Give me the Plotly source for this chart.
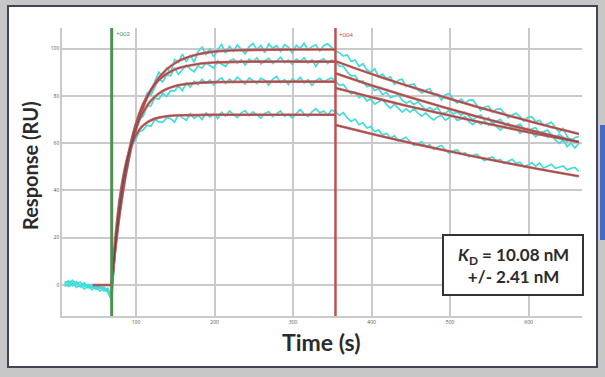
import plotly.graph_objects as go

# ---------------- data ----------------
# sample times (s) of the raw sensorgram traces
base_t = list(range(9, 70, 5))      # baseline, 13 pts
assoc_t = list(range(74, 350, 5))   # association, 56 pts
diss_t = list(range(354, 665, 5))   # dissociation, 63 pts

inject_start = 69
inject_stop = 354

# raw responses (RU), four concentrations
base_1 = [1.5, 0.8, 2.0, 0.5, 1.2, -0.5, 0.3, -1.0, -0.2, -1.5, -0.8, -2.2, -4.0]
base_2 = [0.5, 1.8, -0.3, 1.0, -0.8, 0.6, -1.2, 0.2, -1.8, -0.6, -2.5, -1.4, -5.5]
base_3 = [-0.5, 0.4, 1.2, -1.0, 0.0, -1.6, -0.4, -2.0, -0.9, -2.6, -1.2, -3.0, -6.5]
base_4 = [0.8, -0.6, 0.2, 1.4, -0.2, 0.9, -1.1, -0.3, -1.7, -0.5, -2.0, -2.8, -3.0]

assoc_1 = [16.5, 28.7, 41.9, 49.7, 59.7, 65.1, 69.1, 77.0, 79.5, 80.5,
           86.2, 90.0, 88.0, 92.0, 89.8, 95.3, 94.1, 97.7, 94.4, 97.2,
           94.2, 98.8, 100.6, 97.5, 99.9, 96.5, 99.5, 101.8, 98.1, 101.0,
           98.9, 101.5, 99.6, 97.8, 100.8, 102.1, 99.5, 101.3, 98.3, 101.9,
           100.2, 101.2, 98.8, 101.6, 100.6, 98.2, 101.4, 100.0, 102.2, 99.4,
           100.8, 101.6, 99.0, 101.2, 102.0, 100.4]
assoc_2 = [17.3, 32.7, 42.8, 54.1, 59.5, 67.8, 70.4, 75.9, 81.1, 80.2,
           83.9, 87.3, 85.9, 88.9, 88.5, 91.9, 89.1, 91.2, 93.0, 91.4,
           90.2, 92.7, 91.7, 94.0, 92.8, 91.7, 94.8, 93.4, 92.5, 94.7,
           95.6, 93.8, 95.2, 93.0, 95.5, 94.3, 96.1, 93.5, 94.9, 95.9,
           93.7, 94.7, 96.3, 94.1, 95.1, 93.3, 95.5, 94.5, 96.1, 93.9,
           95.3, 92.5, 94.9, 95.7, 93.7, 95.1]
assoc_3 = [18.5, 32.0, 44.6, 52.1, 60.3, 64.1, 70.3, 71.3, 75.4, 75.8,
           79.1, 78.6, 81.1, 79.7, 82.2, 82.1, 84.3, 82.2, 85.5, 83.7,
           86.2, 84.7, 87.0, 85.3, 86.7, 84.6, 86.4, 87.6, 85.3, 87.1,
           85.7, 87.9, 86.4, 85.0, 87.6, 86.2, 85.2, 87.4, 86.6, 84.6,
           87.0, 88.2, 85.6, 86.8, 84.8, 87.2, 86.0, 87.8, 85.4, 86.8,
           84.4, 86.4, 87.4, 85.8, 86.9, 87.6]
assoc_4 = [20.5, 36.3, 45.6, 52.7, 58.6, 61.3, 64.8, 65.5, 67.6, 67.1,
           70.0, 69.0, 68.8, 70.8, 70.4, 68.9, 72.0, 70.8, 69.7, 72.5,
           70.5, 71.8, 70.0, 72.8, 71.0, 72.4, 70.4, 73.0, 71.4, 73.6,
           72.2, 70.8, 72.8, 73.8, 71.6, 73.2, 72.0, 70.6, 72.6, 73.4,
           71.2, 72.4, 73.6, 71.4, 72.2, 70.6, 72.6, 74.2, 72.4, 71.2,
           73.2, 74.6, 72.8, 73.6, 71.8, 74.0]

diss_1 = [99.0, 98.2, 96.8, 97.4, 94.6, 95.2, 92.4, 93.6, 91.0, 90.1,
          91.4, 88.0, 89.2, 87.3, 88.0, 84.9, 86.6, 87.0, 83.9, 84.7,
          85.0, 82.5, 81.2, 82.4, 83.1, 80.2, 80.7, 78.2, 80.5, 81.0,
          78.5, 77.0, 78.7, 76.9, 78.2, 78.3, 75.8, 73.8, 75.3, 75.6,
          73.1, 74.3, 74.6, 72.4, 70.7, 71.9, 72.6, 71.2, 69.3, 70.9,
          71.2, 69.0, 69.7, 67.5, 68.3, 68.8, 66.6, 64.6, 66.2, 62.8,
          60.9, 62.3, 62.9]
diss_2 = [94.6, 92.6, 92.5, 90.1, 88.4, 88.6, 85.8, 86.3, 83.9, 84.4,
          82.3, 82.9, 80.6, 81.5, 79.2, 80.0, 80.5, 78.2, 76.9, 77.8,
          76.3, 77.6, 75.9, 74.0, 75.1, 73.9, 75.0, 72.5, 72.8, 73.9,
          72.3, 73.2, 71.7, 73.1, 71.4, 69.8, 71.1, 71.9, 69.8, 70.8,
          68.3, 69.3, 70.1, 67.8, 68.4, 66.4, 67.4, 68.1, 66.1, 64.5,
          66.1, 66.5, 64.1, 64.7, 65.5, 63.5, 62.1, 63.7, 62.5, 60.7,
          61.9, 60.5, 60.7]
diss_3 = [86.3, 84.5, 84.8, 82.6, 80.8, 81.6, 79.2, 80.1, 77.9, 78.7,
          76.5, 77.5, 78.5, 76.3, 74.7, 76.5, 74.9, 73.1, 74.5, 73.1,
          74.5, 72.7, 71.4, 72.8, 71.0, 69.8, 71.1, 71.7, 69.7, 70.7,
          71.8, 69.6, 70.2, 71.3, 69.1, 67.8, 69.4, 67.9, 69.3, 67.6,
          69.0, 67.1, 65.5, 67.2, 67.8, 65.9, 66.5, 64.2, 65.3, 66.3,
          64.4, 62.7, 64.3, 64.6, 62.5, 63.6, 61.4, 59.9, 61.4, 58.5,
          60.0, 58.0, 59.9]
diss_4 = [73.3, 71.7, 72.9, 70.7, 69.2, 70.2, 67.8, 68.6, 66.4, 67.0,
          64.8, 65.6, 63.4, 64.2, 62.2, 63.1, 60.9, 61.7, 62.5, 60.6,
          59.0, 60.0, 60.6, 58.5, 59.3, 57.4, 58.4, 59.0, 57.1, 55.7,
          56.8, 57.2, 55.3, 55.9, 54.2, 54.8, 55.3, 53.8, 52.6, 53.7,
          54.2, 52.6, 53.1, 51.4, 52.3, 53.2, 51.5, 51.9, 50.0, 50.7,
          51.8, 50.3, 51.6, 49.5, 50.2, 51.1, 49.4, 49.9, 50.4, 48.7,
          49.4, 49.7, 48.0]

# fitted curves (RU)
fit_assoc_t = [69, 74, 79, 84, 89, 94, 99, 104, 109, 119, 129, 139, 149, 159,
               179, 199, 229, 269, 309, 354]
fit_assoc_1 = [0, 16.0, 29.5, 40.7, 50.2, 58.2, 64.9, 70.5, 75.2, 82.5, 87.6,
               91.2, 93.7, 95.5, 97.6, 98.7, 99.3, 99.5, 99.6, 99.6]
fit_assoc_2 = [0, 17.7, 32.1, 43.8, 53.3, 61.0, 67.3, 72.4, 76.5, 82.6, 86.7,
               89.3, 91.1, 92.2, 93.5, 94.1, 94.4, 94.5, 94.5, 94.5]
fit_assoc_3 = [0, 18.2, 32.5, 43.8, 52.7, 59.8, 65.3, 69.7, 73.1, 78.0, 81.0,
               82.9, 84.1, 84.8, 85.5, 85.8, 85.9, 86.0, 86.0, 86.0]
fit_assoc_4 = [0, 21.0, 35.9, 46.4, 53.9, 59.2, 62.9, 65.6, 67.5, 69.7, 70.8,
               71.4, 71.7, 71.8, 71.9, 72.0, 72.0, 72.0, 72.0, 72.0]

fit_diss_t = [354, 384, 414, 454, 494, 534, 574, 614, 664]
fit_diss_1 = [94.7, 91.1, 87.7, 83.4, 79.3, 75.4, 71.7, 68.1, 63.9]
fit_diss_2 = [89.6, 86.2, 83.0, 78.9, 75.0, 71.3, 67.8, 64.5, 60.5]
fit_diss_3 = [83.3, 80.8, 78.3, 75.1, 72.1, 69.2, 66.4, 63.7, 60.5]
fit_diss_4 = [67.7, 65.2, 62.8, 59.8, 56.9, 54.1, 51.5, 49.0, 46.0]

fit_base_t = [45, 69]
fit_base = [0, 0]

x_ticks = [100, 200, 300, 400, 500, 600]
y_ticks = [0, 20, 40, 60, 80, 100]

# ---------------- figure ----------------
CYAN = "#42dcdc"
RED = "#d3605c"
DARK = "#524650"
GRID = "#cacaca"

fig = go.Figure()

time_all = base_t + assoc_t + diss_t
raw = [base_1 + assoc_1 + diss_1, base_2 + assoc_2 + diss_2,
       base_3 + assoc_3 + diss_3, base_4 + assoc_4 + diss_4]
for r in raw:
    fig.add_trace(go.Scatter(x=time_all, y=r, mode="lines",
                             line=dict(color=CYAN, width=1.7),
                             showlegend=False, hoverinfo="skip"))

fits = [(fit_base_t, fit_base)]
for fa in [fit_assoc_1, fit_assoc_2, fit_assoc_3, fit_assoc_4]:
    fits.append((fit_assoc_t, fa))
for fd in [fit_diss_1, fit_diss_2, fit_diss_3, fit_diss_4]:
    fits.append((fit_diss_t, fd))

for xs, ys in fits:
    fig.add_trace(go.Scatter(x=xs, y=ys, mode="lines",
                             line=dict(color=RED, width=2.6, shape="spline"),
                             showlegend=False, hoverinfo="skip"))
for xs, ys in fits:
    fig.add_trace(go.Scatter(x=xs, y=ys, mode="lines",
                             line=dict(color=DARK, width=0.9, shape="spline"),
                             opacity=0.65, showlegend=False, hoverinfo="skip"))

L, R, T, B = 62, 23, 28, 61
W, H = 605, 377
PW, PH = W - L - R, H - T - B


def px(xp):
    return (xp - L) / PW


def py(yp):
    return (H - B - yp) / PH


shapes = [
    # white panel with dark border
    dict(type="rect", xref="paper", yref="paper", layer="below",
         x0=px(8), x1=px(597), y0=py(367), y1=py(6),
         fillcolor="white", line=dict(color="#3e4657", width=2)),
    # blue sliver at right edge
    dict(type="rect", xref="paper", yref="paper", layer="below",
         x0=px(600), x1=px(606), y0=py(240), y1=py(125),
         fillcolor="#4a68c8", line=dict(width=0)),
    # injection start / stop markers
    dict(type="line", xref="x", yref="paper", x0=inject_start, x1=inject_start,
         y0=0, y1=1, line=dict(color="#4f8f4f", width=3)),
    dict(type="line", xref="x", yref="paper", x0=inject_stop, x1=inject_stop,
         y0=0, y1=1, line=dict(color="#c0504d", width=2.5)),
    # KD box
    dict(type="rect", xref="paper", yref="paper",
         x0=px(443), x1=px(583), y0=py(295), y1=py(235),
         fillcolor="white", line=dict(color="#333333", width=2)),
]

annotations = [
    dict(text="<b>Response (RU)</b>", xref="paper", yref="paper",
         x=px(30), y=py(166), xanchor="center", yanchor="middle",
         showarrow=False, textangle=-90,
         font=dict(family="Lato", size=20, color="#2b2b2b")),
    dict(text="<b>Time (s)</b>", xref="paper", yref="paper",
         x=px(321), y=py(342), xanchor="center", yanchor="middle",
         showarrow=False,
         font=dict(family="Lato", size=23, color="#2b2b2b")),
    dict(text="<b><i>K</i><sub>D</sub> = 10.08 nM<br>+/- 2.41 nM</b>",
         xref="paper", yref="paper", x=px(513), y=py(265),
         xanchor="center", yanchor="middle", showarrow=False,
         align="center",
         font=dict(family="Lato", size=17, color="#2b2b2b")),
    dict(text="+002", xref="paper", yref="paper", x=px(114), y=py(33),
         xanchor="left", yanchor="middle", showarrow=False,
         font=dict(family="Lato", size=6, color="#4f8f4f")),
    dict(text="+004", xref="paper", yref="paper", x=px(337), y=py(34),
         xanchor="left", yanchor="middle", showarrow=False,
         font=dict(family="Lato", size=6, color="#c0504d")),
]

fig.update_layout(
    width=W, height=H,
    margin=dict(l=L, r=R, t=T, b=B),
    paper_bgcolor="#c7c7c7",
    plot_bgcolor="rgba(0,0,0,0)",
    shapes=shapes,
    annotations=annotations,
    showlegend=False,
    xaxis=dict(range=[5.7, 668], tickvals=x_ticks, showgrid=True,
               gridcolor=GRID, gridwidth=1.5, showline=True, linecolor=GRID,
               linewidth=1.5, zeroline=False, ticks="",
               tickfont=dict(size=5, color="#555555")),
    yaxis=dict(range=[-13.1, 108.7], tickvals=y_ticks, showgrid=True,
               gridcolor=GRID, gridwidth=1.5, showline=True, linecolor=GRID,
               linewidth=1.5, zeroline=False, ticks="",
               tickfont=dict(size=5, color="#555555")),
)

fig.write_html("out.html",
               config={"displayModeBar": False},
               post_script="document.body.style.margin='0';"
                           "document.body.style.overflow='hidden';")
